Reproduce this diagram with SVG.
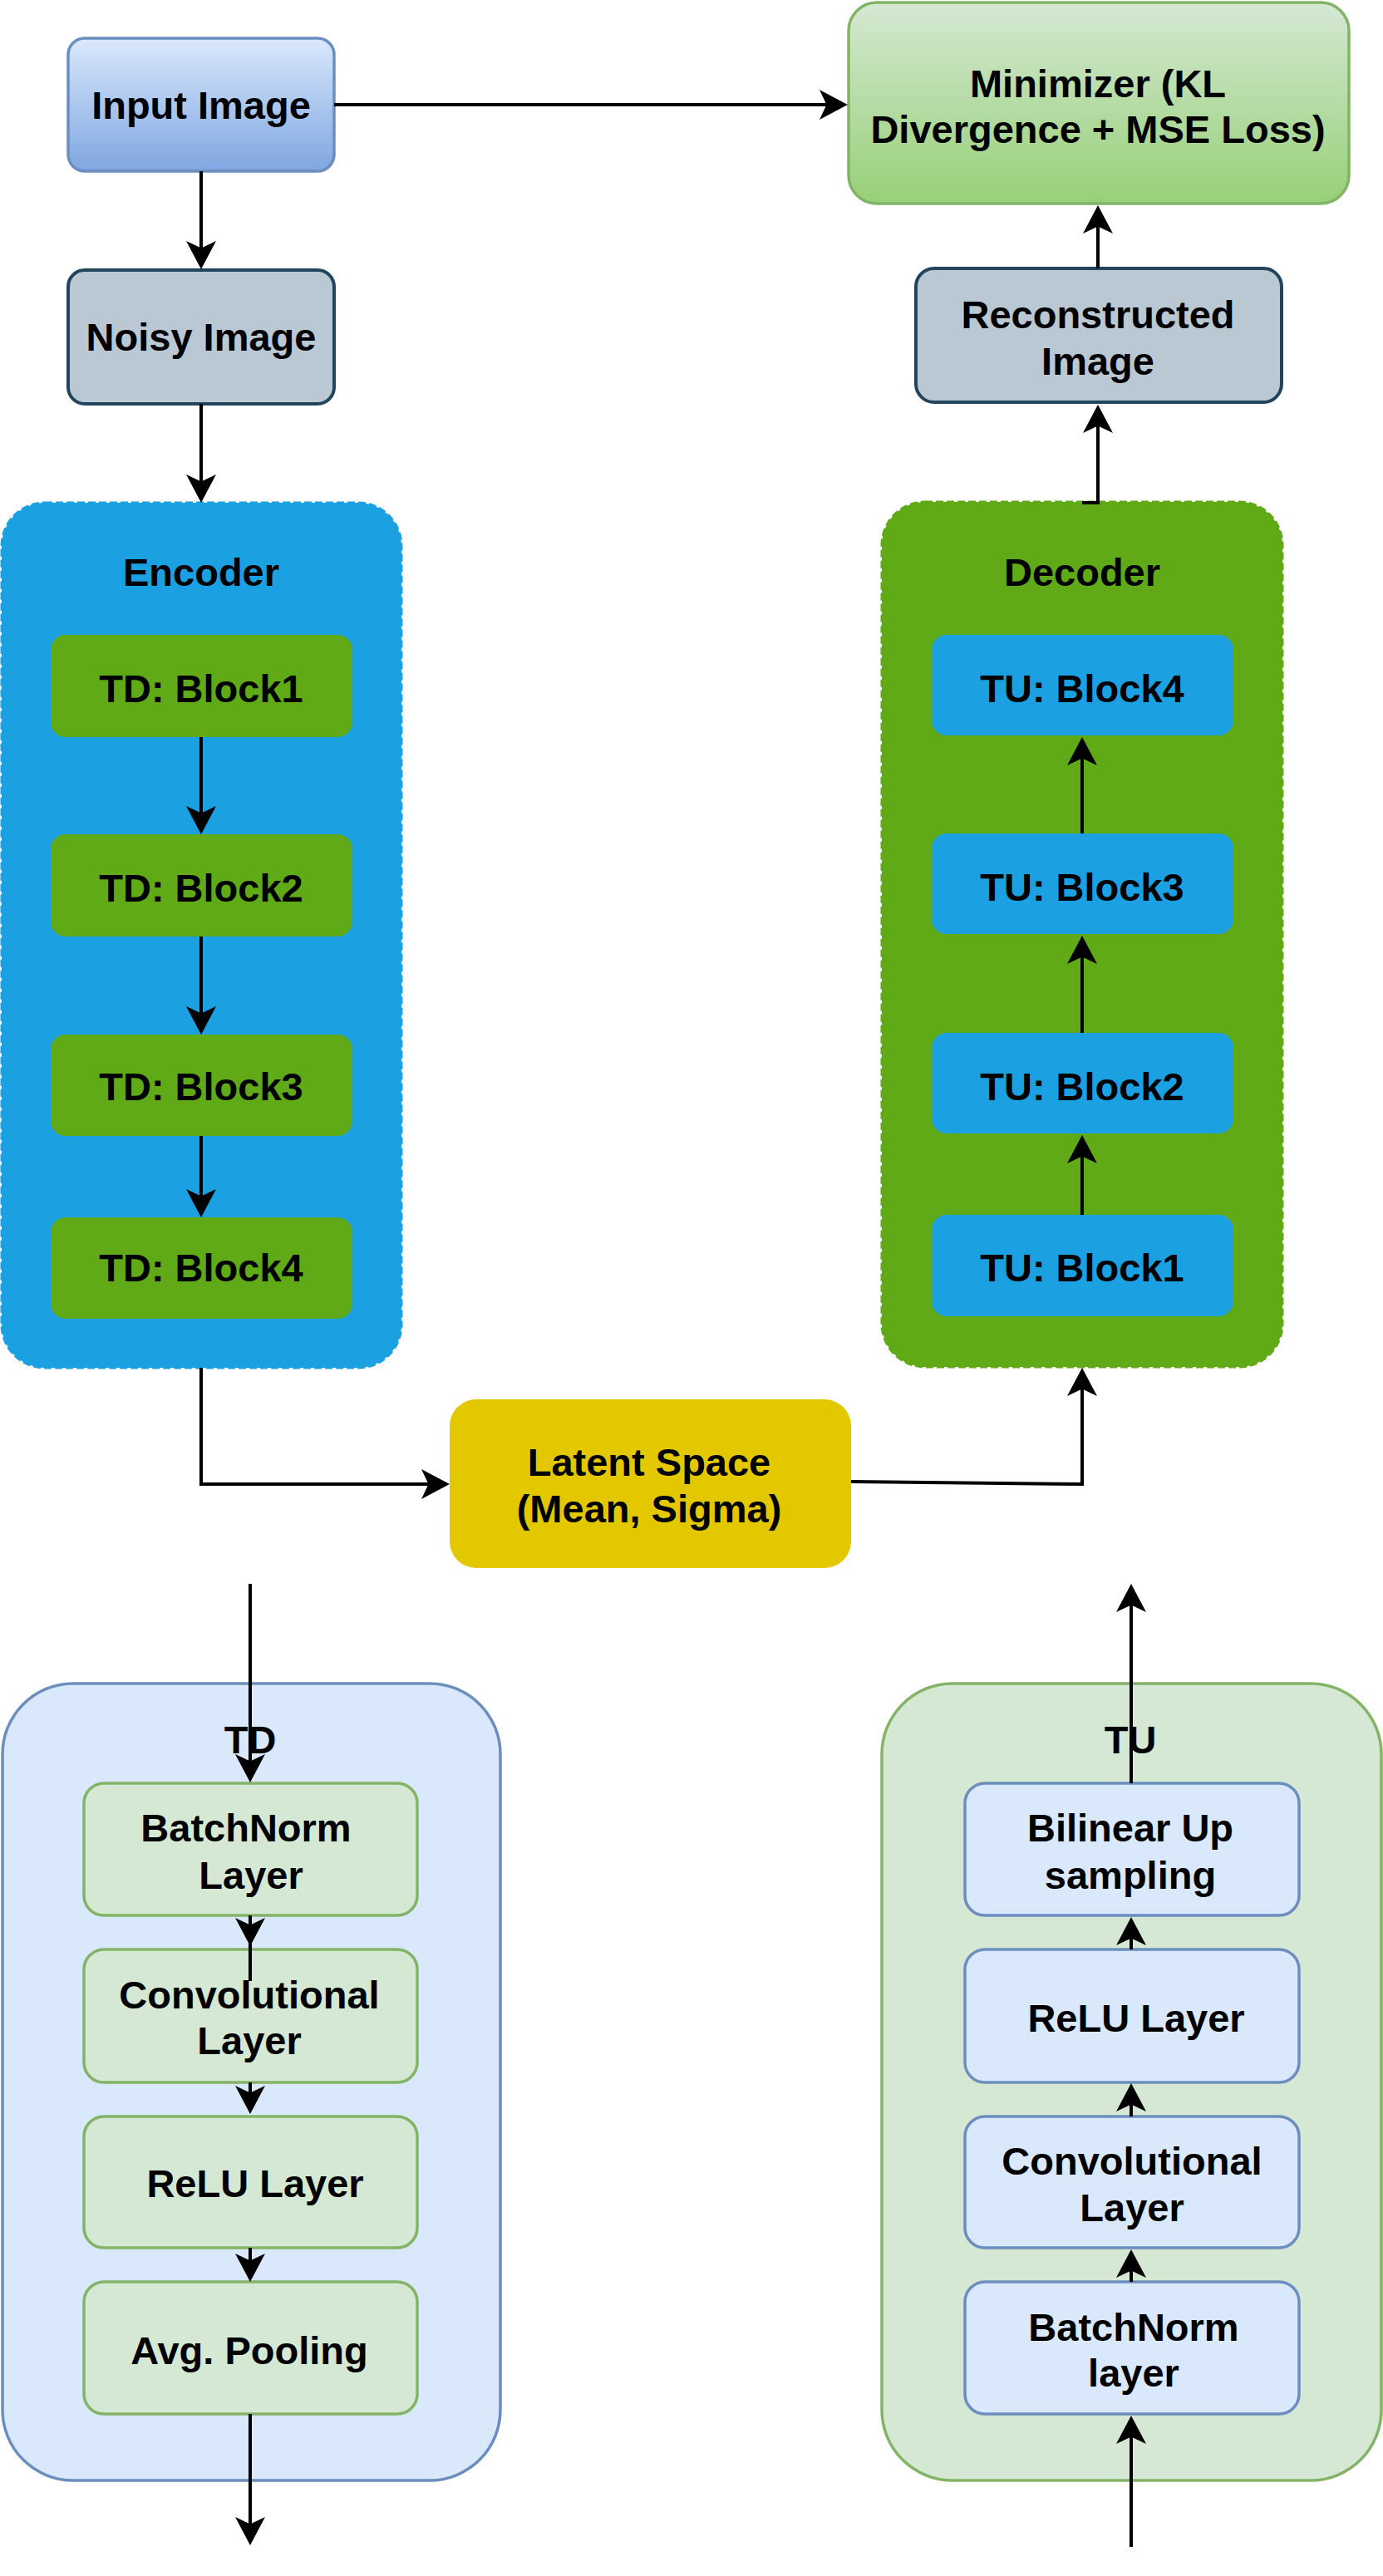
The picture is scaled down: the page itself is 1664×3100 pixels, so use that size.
<svg xmlns="http://www.w3.org/2000/svg" width="1664" height="3100" viewBox="0 0 1664 3100">
<defs>
<linearGradient id="gBlue" x1="0" y1="0" x2="0" y2="1"><stop offset="0" stop-color="#dae8fc"/><stop offset="1" stop-color="#7ea6e0"/></linearGradient>
<linearGradient id="gGreen" x1="0" y1="0" x2="0" y2="1"><stop offset="0" stop-color="#d5e8d4"/><stop offset="1" stop-color="#97d077"/></linearGradient>
<marker id="ah" markerUnits="userSpaceOnUse" viewBox="-16 -20 38 40" refX="0" refY="0" markerWidth="38" markerHeight="40" orient="auto">
<path d="M20,0 L-14,-18 L-5.5,0 L-14,18 Z" fill="#000"/>
</marker>
<style>
text{font-family:"Liberation Sans",Arial,Helvetica,sans-serif;font-weight:bold;font-size:47px;fill:#000;text-anchor:middle}
.edge{fill:none;stroke:#000;stroke-width:4}
.arr{marker-end:url(#ah)}
.grey{fill:#bac8d3;stroke:#23445d;stroke-width:4}
.gl{fill:#d5e8d4;stroke:#82b366;stroke-width:3.5}
.bl{fill:#dae8fc;stroke:#6c8ebf;stroke-width:3.5}
</style>
</defs>
<rect width="1664" height="3100" fill="#fff"/>

<g id="input-image"><rect x="82" y="46" width="320" height="160" rx="20" fill="url(#gBlue)" stroke="#6c8ebf" stroke-width="3.5"/><text x="242" y="143">Input Image</text></g>
<g id="noisy-image"><rect x="82" y="325" width="320" height="161" rx="20" class="grey"/><text x="242" y="422">Noisy Image</text></g>
<g id="minimizer"><rect x="1021" y="3" width="602" height="242" rx="34" fill="url(#gGreen)" stroke="#82b366" stroke-width="3.5"/><text x="1321" y="117">Minimizer (KL</text><text x="1321" y="172">Divergence + MSE Loss)</text></g>
<g id="reconstructed-image"><rect x="1102" y="323" width="440" height="161" rx="22" class="grey"/><text x="1321" y="395">Reconstructed</text><text x="1321" y="451">Image</text></g>

<g id="encoder"><rect x="2" y="605" width="481" height="1041" rx="52" fill="#1ba1e2" stroke="#1ba1e2" stroke-width="3" stroke-dasharray="9 4"/><text x="242" y="705">Encoder</text></g>
<g id="td-block1"><rect x="61" y="764" width="363" height="123" rx="18" fill="#60a917"/><text x="242" y="845">TD: Block1</text></g>
<g id="td-block2"><rect x="61" y="1004" width="363" height="123" rx="18" fill="#60a917"/><text x="242" y="1085">TD: Block2</text></g>
<g id="td-block3"><rect x="61" y="1245" width="363" height="122" rx="18" fill="#60a917"/><text x="242" y="1324">TD: Block3</text></g>
<g id="td-block4"><rect x="61" y="1465" width="363" height="122" rx="18" fill="#60a917"/><text x="242" y="1542">TD: Block4</text></g>

<g id="decoder"><rect x="1061" y="604" width="482" height="1041" rx="52" fill="#60a917" stroke="#60a917" stroke-width="3" stroke-dasharray="9 4"/><text x="1302" y="705">Decoder</text></g>
<g id="tu-block4"><rect x="1121" y="764" width="363" height="121" rx="18" fill="#1ba1e2"/><text x="1302" y="845">TU: Block4</text></g>
<g id="tu-block3"><rect x="1121" y="1003" width="363" height="121" rx="18" fill="#1ba1e2"/><text x="1302" y="1084">TU: Block3</text></g>
<g id="tu-block2"><rect x="1121" y="1243" width="363" height="121" rx="18" fill="#1ba1e2"/><text x="1302" y="1324">TU: Block2</text></g>
<g id="tu-block1"><rect x="1121" y="1462" width="363" height="122" rx="18" fill="#1ba1e2"/><text x="1302" y="1542">TU: Block1</text></g>

<g id="latent-space"><rect x="541" y="1684" width="483" height="203" rx="32" fill="#e3c800"/><text x="781" y="1776">Latent Space</text><text x="781" y="1832">(Mean, Sigma)</text></g>

<g id="td-container"><rect x="3" y="2026" width="599" height="959" rx="85" class="bl"/><text x="301" y="2110">TD</text></g>
<g id="td-batchnorm"><rect x="101" y="2146" width="401" height="159" rx="24" class="gl"/><text x="296" y="2216">BatchNorm</text><text x="302" y="2273">Layer</text></g>
<g id="td-conv"><rect x="101" y="2346" width="401" height="160" rx="24" class="gl"/><text x="300" y="2417">Convolutional</text><text x="300" y="2472">Layer</text></g>
<g id="td-relu"><rect x="101" y="2547" width="401" height="158" rx="24" class="gl"/><text x="307" y="2644">ReLU Layer</text></g>
<g id="td-avgpool"><rect x="101" y="2746" width="401" height="159" rx="24" class="gl"/><text x="300" y="2845">Avg. Pooling</text></g>

<g id="tu-container"><rect x="1061" y="2026" width="601" height="959" rx="85" class="gl"/><text x="1360" y="2110">TU</text></g>
<g id="tu-bilinear"><rect x="1161" y="2146" width="402" height="159" rx="24" class="bl"/><text x="1360" y="2216">Bilinear Up</text><text x="1360" y="2273">sampling</text></g>
<g id="tu-relu"><rect x="1161" y="2346" width="402" height="160" rx="24" class="bl"/><text x="1367" y="2445">ReLU Layer</text></g>
<g id="tu-conv"><rect x="1161" y="2547" width="402" height="158" rx="24" class="bl"/><text x="1362" y="2617">Convolutional</text><text x="1362" y="2673">Layer</text></g>
<g id="tu-batchnorm"><rect x="1161" y="2746" width="402" height="159" rx="24" class="bl"/><text x="1364" y="2817">BatchNorm</text><text x="1364" y="2872">layer</text></g>

<g id="connectors">
<path class="edge arr" d="M242,206 L242,304"/>
<path class="edge arr" d="M242,486 L242,585"/>
<path class="edge arr" d="M402,126 L1000,126"/>
<path class="edge arr" d="M1321,323 L1321,267"/>
<path class="edge arr" d="M1302,605 L1321,605 L1321,507"/>
<path class="edge arr" d="M242,887 L242,984"/>
<path class="edge arr" d="M242,1127 L242,1225"/>
<path class="edge arr" d="M242,1367 L242,1445"/>
<path class="edge arr" d="M1302,1462 L1302,1386"/>
<path class="edge arr" d="M1302,1243 L1302,1146"/>
<path class="edge arr" d="M1302,1003 L1302,907"/>
<path class="edge arr" d="M242,1646 L242,1786 L521,1786"/>
<path class="edge arr" d="M1024,1783 L1302,1786 L1302,1666"/>
<path class="edge arr" d="M301,1906 L301,2125"/>
<path class="edge" d="M301,2305 L301,2384"/>
<path class="edge arr" d="M301,2305 L301,2322"/>
<path class="edge arr" d="M301,2506 L301,2524"/>
<path class="edge arr" d="M301,2705 L301,2726"/>
<path class="edge arr" d="M301,2905 L301,3043"/>
<path class="edge arr" d="M1361,3065 L1361,2927"/>
<path class="edge arr" d="M1361,2746 L1361,2727"/>
<path class="edge arr" d="M1361,2547 L1361,2527"/>
<path class="edge arr" d="M1361,2346 L1361,2327"/>
<path class="edge arr" d="M1361,2146 L1361,1926"/>
</g>
</svg>
